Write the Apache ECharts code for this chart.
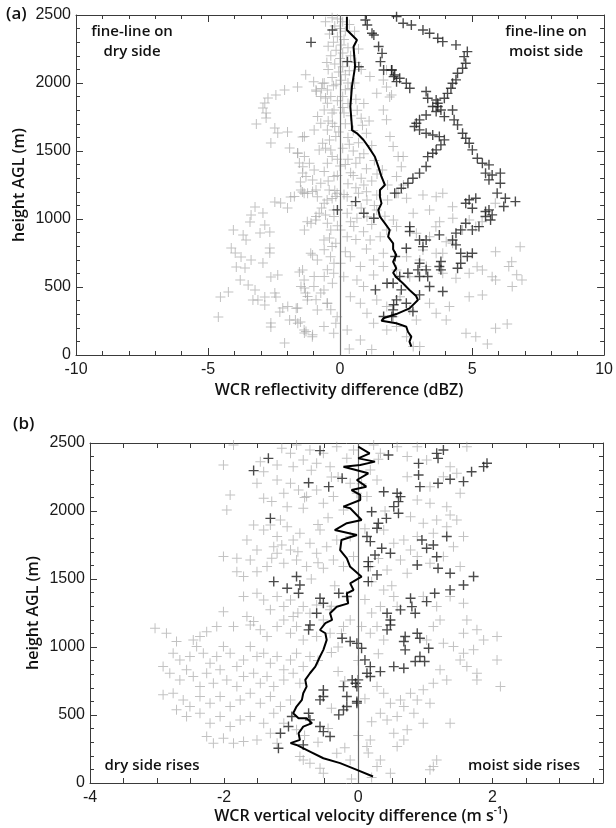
<!DOCTYPE html>
<html><head><meta charset="utf-8">
<script src="https://cdn.jsdelivr.net/npm/echarts@6/dist/echarts.min.js"></script>
<style>html,body{margin:0;padding:0;background:#fff}#c{width:616px;height:828px}</style>
</head><body><div id="c"></div>
<script>
// ---------- tick labels ----------
const aXTickLabels = [-10, -5, 0, 5, 10];
const aYTickLabels = [0, 500, 1000, 1500, 2000, 2500];
const bXTickLabels = [-4, -2, 0, 2];
const bYTickLabels = [0, 500, 1000, 1500, 2000, 2500];

// ---------- panel (a): reflectivity difference (dBZ) vs height (m) ----------
const aMean = [[0.26,2488],[0.26,2390],[0.64,2316],[0.51,2267],[0.57,2120],[0.45,1973],[0.39,1826],[0.45,1679],[0.45,1654],[0.64,1630],[0.89,1581],[1.07,1532],[1.32,1458],[1.45,1385],[1.57,1311],[1.70,1250],[1.51,1213],[1.51,1164],[1.57,1115],[1.45,1066],[1.51,1017],[1.70,968],[1.88,919],[1.82,870],[2.01,821],[2.01,777],[2.13,735],[2.01,686],[2.13,637],[2.01,605],[2.13,571],[2.38,527],[2.63,478],[2.88,434],[2.95,404],[2.63,343],[2.13,301],[1.64,270],[1.57,252],[2.13,233],[2.51,208],[2.57,171],[2.70,135],[2.63,98],[2.70,61]];

const aGrey = [
[-1.61,1970],[-2.10,1948],[-2.43,1912],[-2.73,1890],[-2.85,1853],[-2.92,1816],[-2.80,1779],[-2.80,1743],[-3.17,1698],[-2.47,1669],[-2.36,1632],[-2.62,1559],[-1.99,1640],[-1.42,1603],[-1.91,1522],[-1.61,1485],[-1.54,1412],[-1.42,1338],[-1.50,1272],[-1.42,1199],[-1.87,1162],
[-3.22,1088],[-3.37,1029],[-3.41,978],[-2.92,1044],[-2.85,956],[-2.47,1125],[-2.25,1118],[-1.99,1081],[-4.04,919],[-3.67,882],[-3.56,846],[-3.03,897],[-2.66,904],[-4.12,787],[-3.97,750],[-3.75,721],[-3.37,698],[-3.93,647],[-3.60,640],[-2.92,676],[-2.66,787],[-2.66,750],[-3.78,551],[-3.48,515],[-3.22,478],[-3.11,404],[-3.30,404],[-2.85,368],[-2.47,456],[-2.43,427],[-2.62,574],[-2.36,588],[-2.85,427],[-4.53,427],[-4.23,463],[-4.61,279],[-2.28,316],[-2.17,345],[-2.62,235],[-2.62,206],[-1.91,257],[-1.69,257],[-2.10,88],[-1.61,345],[-1.54,610],[-1.35,493],[-1.31,456],[-1.35,162],[-1.50,243],
[-1.29,173],[-1.04,148],[-1.73,1165],[-1.48,1214],[-1.23,1190],[-1.04,1202],[-0.91,1018],[-0.79,1043],[-1.10,969],[-1.35,920],[-1.04,736],[-0.60,773],[-0.48,626],[-1.48,504],[-1.23,430],[-0.91,406],[-0.73,455],[-0.48,381],[-0.35,332],[-0.29,528],[-0.16,234],[-0.98,577],[-0.60,577],[-0.23,675],[-0.16,822],[-0.35,920],[-0.48,969],[-0.23,1018],[-1.98,357],[-1.66,344],[-1.60,234],
[-1.35,1606],[-1.60,1483],[-1.35,1459],[-1.41,1385],[-1.16,1410],[-0.98,1361],[-1.29,1312],[-1.04,1287],[-0.73,1263],[-0.91,1214],[-0.66,1557],[-0.79,1508],[-0.98,1655],[-0.73,1704],[-0.48,1655],[-0.85,1753],[-0.60,1802],[-0.48,1851],[-0.73,1900],[-0.91,1949],[-0.66,1998],[-0.48,1949],[-0.35,1900],[-0.23,1802],[-0.29,1704],[-0.16,1606],[-0.35,1508],[-0.48,1410],[-0.23,1312],[-0.41,1214],[-0.60,1116],[-0.16,1165],
[-0.30,2480],[-0.10,2470],[0.10,2450],[-0.20,2420],[0.00,2400],[0.20,2380],[-0.40,2360],[-0.10,2340],[0.15,2320],[-0.25,2300],[0.05,2280],[0.30,2260],[-0.15,2240],[0.10,2220],[-0.35,2200],[0.00,2180],[0.25,2160],[-0.20,2140],[0.10,2120],[-0.45,2100],[-0.05,2080],[0.20,2060],[-0.30,2040],[0.05,2020],[-0.60,2000],[-0.15,1990],[0.30,2000],[0.60,2150],[0.70,2250],[0.80,2100],[0.55,2380],[0.40,1960],[-0.70,1960],[-0.90,1940],[-1.00,2010],[-1.30,2060],
[-0.55,2450],[0.35,2430],[-0.45,2270],[0.40,2200],[-0.50,2150],[0.35,2090],[-0.25,1980],[0.55,2000],[-0.55,1890],[0.15,1780],[0.65,1800],[-0.45,1720],[0.85,1690],[-0.05,1640],[0.35,1550],[-0.55,1520],[0.75,1450],[-0.10,1440],[0.20,1400],[-0.60,1350],[0.50,1320],[1.40,1330],[-0.45,1280],[0.90,1250],[0.15,1180],[-0.30,1150],[1.30,1100],[0.45,1100],[-0.70,1080],[0.80,1080],[1.80,1140],[2.40,1250],[1.70,1020],[0.40,980],[-0.10,950],[1.20,960],[0.60,850],[-0.40,860],[1.00,780],[0.20,760],
[0.20,1950],[0.10,1900],[-0.10,1870],[0.30,1850],[0.60,1880],[0.90,1850],[0.10,1820],[-0.30,1780],[0.40,1760],[0.80,1740],[1.10,1720],[0.20,1700],[-0.20,1680],[0.50,1650],[1.00,1630],[0.30,1600],[-0.40,1580],[0.70,1560],[1.20,1540],[0.10,1520],[0.50,1500],[0.90,1480],[-0.30,1460],[0.30,1440],[1.30,1430],[0.60,1410],[0.00,1390],[1.00,1370],[1.60,1360],[0.40,1340],[-0.10,1320],[0.80,1300],[1.20,1280],[0.30,1260],[1.80,1250],[0.60,1230],[-0.20,1210],[1.00,1200],[2.20,1190],
[1.76,2096],[1.64,2022],[1.76,1971],[1.88,1897],[1.64,1801],[1.39,1924],[1.13,2047],[1.76,1729],[1.89,1606],[2.01,1533],[2.20,1459],[2.32,1385],[2.14,1312],[1.95,1912],[2.39,1459],
[-1.36,1189],[-0.86,1164],[-0.49,1140],[-0.11,1189],[0.27,1164],[0.70,1189],[1.02,1140],[1.39,1176],[2.14,1189],[2.52,1152],[3.14,1176],[3.64,1164],[3.89,1189],[-1.24,980],[-0.92,993],[-0.55,1029],[-0.24,1066],[0.27,1042],[0.64,1005],[1.02,1017],[1.39,1066],[2.02,993],[2.77,1042],[3.39,1066],[3.77,980],[4.27,1005],[4.89,993],
[-1.11,748],[-0.61,846],[-0.30,797],[0.02,919],[0.27,870],[0.52,944],[0.89,907],[1.14,846],[1.52,870],[1.77,919],[2.14,944],[2.89,895],[3.39,870],[4.02,833],[4.64,919],[5.14,944],[5.89,760],[3.14,772],[3.64,748],[-1.42,625],[-0.86,699],[-0.36,723],[0.02,674],[0.39,723],[0.77,650],[1.27,699],[1.64,748],[2.52,723],[3.02,699],[3.89,748],
[-1.36,552],[-0.99,503],[-0.61,478],[-0.24,601],[0.14,576],[0.64,552],[0.89,503],[1.27,588],[1.64,650],[2.14,625],[2.64,576],[3.27,650],[3.89,601],[4.39,564],[4.89,601],[5.39,625],[5.89,552],[6.39,650],[6.52,503],[6.89,552],
[-1.24,405],[-0.86,331],[-0.49,380],[-0.11,282],[0.39,429],[0.77,380],[1.02,307],[1.39,405],[1.77,356],[2.02,282],[2.27,429],[2.64,331],[2.89,258],[3.39,380],[3.64,307],[4.14,356],[4.89,429],[5.39,441],
[-1.36,184],[-1.05,135],[-0.61,209],[-0.24,160],[0.27,184],[0.77,111],[1.27,233],[1.77,184],[2.14,209],[2.52,135],[3.02,62],[2.77,62],[4.02,258],[4.77,160],[5.14,135],[5.58,81],[5.89,196],[6.33,228],
[6.50,686],[6.69,590],[6.82,796],[5.76,575],[5.19,649],[4.26,821],[5.38,980],[5.88,1115],[4.26,1090],[3.63,943],[0.35,45],[1.20,40]
];

const aDark = [
[1.95,2096],[2.07,2059],[2.26,2035],[2.14,2010],[2.51,1998],[2.64,1961],[3.26,1937],[3.32,1888],[3.64,1875],[3.70,1827],[3.82,1802],[3.64,1790],[3.95,1753],[4.26,1802],[4.32,1729],[4.45,1692],[4.64,1631],[4.76,1594],[4.89,1557],[5.01,1508],[5.20,1447],[5.39,1410],[5.64,1398],[5.51,1337],[5.76,1324],[6.07,1337],[5.64,1288],[6.07,1263],[5.95,1190],[6.26,1153],[6.64,1128],[6.20,1092],
[2.07,1190],[2.32,1226],[2.57,1263],[2.76,1300],[3.01,1337],[3.26,1386],[3.32,1459],[3.51,1484],[3.64,1508],[3.82,1545],[3.95,1582],[3.76,1606],[3.51,1618],[3.26,1631],[3.01,1655],[2.82,1680],[2.89,1704],[3.01,1729],[3.26,1765],[3.51,1827],[3.70,1851],[3.95,1888],[4.07,1924],[4.20,1961],[4.26,1998],[4.39,2023],[4.45,2072],[4.64,2108],[4.76,2145],[4.70,2194],[4.82,2231],[4.39,2280],
[2.14,2488],[2.39,2439],[2.70,2427],[3.14,2390],[3.39,2366],[3.70,2329],[3.89,2304],
[4.76,1116],[5.01,1079],[4.89,1141],[5.14,1153],[5.51,1055],[5.64,1067],[5.76,1030],[5.51,1018],[5.70,993],[5.26,944],[5.01,920],[4.76,969],[4.57,920],[4.39,896],[4.26,846],[4.39,810],[4.57,748],[4.82,724],[5.01,748],[4.57,675],[4.45,638],[3.82,687],[3.76,651],[3.82,626],[3.26,626],[3.32,577],[3.01,577],[3.39,504],[3.01,442],[3.89,467],[2.64,944],[2.64,908],[3.01,846],[3.26,846],[3.14,797],[2.51,785],[3.01,675],[2.95,626],[2.57,601],[2.26,577],[2.01,528],[2.32,479],[2.14,405],[2.51,381],[2.76,320],[2.01,332],[3.76,883],
[0.96,2463],[1.03,2427],[1.21,2366],[1.28,2353],[1.46,2268],[1.59,2218],[1.53,2157],[1.65,2096],[1.96,2096],[2.03,2047],[-1.10,2299],[-0.29,2390],[0.28,2157],[0.71,2120],[0.59,1128],[0.90,1042],[1.28,1006],[-0.10,1067],[1.34,479],[1.78,528],[1.65,283],[2.03,369],[1.96,283],[2.09,724]
];

// ---------- panel (b): vertical velocity difference (m/s) vs height (m) ----------
const bMean = [[0.00,2473],[0.17,2424],[0.00,2387],[0.25,2363],[0.03,2338],[-0.22,2326],[0.15,2277],[-0.02,2228],[0.12,2179],[-0.10,2154],[0.03,2118],[0.03,2081],[-0.22,2032],[-0.12,2020],[0.05,1934],[-0.17,1910],[-0.35,1860],[-0.02,1824],[-0.25,1787],[-0.27,1713],[-0.17,1652],[-0.12,1590],[0.05,1517],[-0.12,1468],[-0.07,1419],[-0.17,1395],[-0.15,1321],[-0.32,1296],[-0.42,1248],[-0.39,1199],[-0.49,1175],[-0.57,1125],[-0.49,1101],[-0.47,1052],[-0.52,979],[-0.57,930],[-0.64,856],[-0.72,807],[-0.79,758],[-0.77,709],[-0.82,660],[-0.84,611],[-0.92,562],[-0.97,513],[-0.89,476],[-0.77,476],[-0.69,440],[-0.82,415],[-0.89,366],[-0.87,317],[-1.01,293],[-0.92,280],[-0.72,231],[-0.52,182],[-0.27,146],[-0.02,97],[0.22,48]];

const bGrey = [
[-2.01,2338],[-1.86,2485],[-1.46,2363],[-1.41,2289],[-1.21,2338],[-1.14,2461],[-1.01,2424],[-0.92,2485],[-0.97,2326],[-0.82,2375],[-0.72,2449],[-0.62,2351],[-0.52,2424],[-0.42,2326],[-0.32,2473],[-0.17,2387],[-0.07,2449],[-1.91,2118],[-1.96,2008],[-1.41,2093],[-1.29,2069],[-1.11,2130],[-1.01,2204],[-0.89,2155],[-0.77,2106],[-0.62,2155],[-0.52,2057],[-0.37,2106],[-0.12,2204],[-0.02,2130],[-1.21,2228],[-1.51,2204],[-1.06,2032],[-0.82,2020],[-0.22,2008],[-1.31,1897],[-1.16,1934],
[-1.66,1787],[-1.51,1714],[-1.41,1861],[-1.21,1812],[-1.06,1885],[-0.97,1787],[-0.87,1836],[-0.72,1763],[-0.57,1861],[-0.47,1738],[-0.32,1787],[-0.12,1812],[-2.01,1665],[-1.81,1652],[-1.61,1640],[-1.51,1554],[-1.36,1591],[-1.21,1689],[-1.11,1616],[-1.01,1714],[-0.92,1640],[-0.77,1591],[-0.62,1689],[-0.52,1579],[-0.37,1640],[-0.22,1591],[-0.07,1665],[-1.81,1554],[-1.71,1518],[-1.26,1738],[-1.14,1750],[-1.29,1652],
[-1.71,1371],[-1.51,1395],[-1.41,1346],[-1.31,1273],[-1.21,1371],[-1.11,1297],[-1.01,1346],[-0.97,1224],[-0.82,1297],[-0.72,1248],[-0.62,1309],[-0.52,1199],[-0.42,1273],[-2.01,1260],[-1.86,1150],[-1.66,1224],[-1.56,1187],[-1.46,1126],[-1.36,1077],[-1.21,1150],[-1.11,1199],[-1.01,1101],[-0.92,1150],[-0.82,1052],[-0.62,1077],[-0.42,1101],[-0.22,1150],[-0.12,1199],[-3.03,1138],[-2.86,1101],[-2.71,1040],[-2.46,1052],[-2.36,1077],[-2.26,1113],[-2.11,1150],
[-2.76,954],[-2.66,905],[-2.51,930],[-2.41,1003],[-2.31,954],[-2.21,881],[-2.11,930],[-2.01,1003],[-1.91,954],[-1.81,856],[-1.71,905],[-1.61,1003],[-1.51,930],[-1.41,954],[-1.31,881],[-1.21,930],[-1.11,832],[-1.01,905],[-0.92,954],[-0.82,856],[-0.72,930],[-2.91,856],[-2.81,807],[-2.66,758],[-2.56,832],[-2.46,783],[-2.36,709],[-2.26,807],[-2.16,734],[-2.06,832],[-1.96,758],[-1.81,709],[-1.71,783],[-1.56,807],[-1.46,734],[-1.36,783],[-1.26,709],[-1.11,758],[-0.97,807],[-0.87,734],[-2.91,648],[-2.76,660],[-2.61,611],[-2.51,562],[-2.36,636],[-2.21,587],[-2.06,636],[-1.91,562],[-1.76,611],[-1.61,660],[-1.46,587],[-1.31,636],[-1.16,562],[-1.01,611],[-1.56,1897],[-1.61,1162],
[-2.71,538],[-2.56,489],[-2.36,513],[-2.21,440],[-2.06,489],[-1.91,415],[-1.76,464],[-1.61,489],[-1.41,440],[-1.26,513],[-1.11,440],[-2.26,342],[-2.16,293],[-2.01,329],[-1.86,293],[-1.71,305],[-1.51,317],[-1.31,366],[-0.87,195],[-0.72,146],[-0.57,109],[-0.52,72],[-1.21,293],[-0.92,391],[-0.82,170],[-0.32,219],[-0.12,170],
[0.23,2485],[0.33,2424],[0.58,2473],[0.73,2400],[0.88,2473],[1.02,2375],[1.37,2326],[1.62,2473],[1.47,2277],[1.07,2179],[1.27,2252],[1.52,2130],[0.88,2081],[1.07,2057],[1.32,2032],[0.18,2302],[0.28,2228],[0.73,2252],[0.13,2106],
[0.78,1958],[0.97,1910],[1.17,1934],[1.37,1971],[1.47,1934],[1.57,1812],[1.32,1885],[1.12,1836],[0.88,1812],[0.68,1787],[0.38,1861],[0.53,1763],[0.78,1714],[0.63,1640],[0.88,1665],[1.07,1616],[1.27,1665],[1.42,1738],[1.52,1591],[0.43,1567],[0.73,1542],[0.18,1591],
[0.38,1420],[0.53,1371],[0.33,1297],[0.58,1297],[0.97,1371],[1.17,1297],[1.37,1371],[1.57,1322],[1.62,1199],[1.77,1126],[1.57,1101],[1.22,1199],[1.12,1150],[1.02,1052],[1.27,1027],[1.42,1003],[1.57,954],[1.72,979],[1.87,1052],[2.07,1077],[0.28,1150],[0.18,1101],[0.38,1052],
[1.52,905],[1.62,856],[1.77,807],[1.22,832],[1.32,758],[1.12,734],[0.97,685],[0.78,660],[0.63,611],[0.48,587],[0.68,562],[0.88,611],[1.07,587],[0.28,709],[0.38,660],[0.33,513],[0.43,464],[0.58,489],[0.83,513],[0.97,440],[1.37,440],[2.12,709],[2.07,905],[1.77,758],
[0.18,317],[0.13,268],[0.53,366],[0.68,317],[0.73,391],[0.33,170],[0.28,121],[0.48,72],[1.12,121],[1.07,97],[1.17,170],[0.58,268],
[-0.30,2250],[0.05,2200],[-0.45,1950],[0.10,1870],[-0.60,1620],[0.20,1480],[-0.35,1450],[0.10,1350],[-0.25,1100],[0.05,1150],[-0.40,960],[0.00,900],[-0.30,820],[0.10,620],[-0.45,400],[0.00,350],[-0.20,260],[0.15,220],[-0.60,300],[0.20,40],[-0.10,30],
[-0.70,2300],[-0.40,2250],[0.30,2380],[-0.80,2100],[0.40,2000],[-0.60,1900],[-0.90,1700],[0.30,1650],[-0.70,1500],[0.50,1450],[-0.40,1300],[0.20,1250],[-0.90,1250],[-0.30,1000],[0.30,950],[-0.60,900],[-0.20,750],[0.20,450],[-0.80,350],[-0.40,550]
];

const bDark = [
[-1.34,2387],[-1.56,2297],[-0.74,2208],[-0.57,2444],[-0.44,2179],[-0.24,2240],[-1.31,1946],[-0.92,1518],[-1.06,1432],[-0.89,1395],[-0.87,1456],[-1.26,1481],[-0.57,1358],[-0.52,1322],[-0.62,1248],[-0.29,1395],[-0.17,1371],[-0.72,1162],[-0.74,1126],[-0.24,1064],[-0.02,1027],[-0.09,758],[-0.04,734],[-0.22,709],[-0.52,684],[-0.52,636],[-0.57,611],[-0.17,636],[-0.02,587],[-0.99,489],[-0.74,513],[-0.72,464],[-0.57,415],[-0.52,378],[-0.42,342],[-0.29,501],[-0.22,538],[-0.17,562],[-1.16,366],[-1.04,415],[-1.19,256],[-0.82,280],
[0.45,2412],[0.90,2350],[1.17,2424],[1.19,2387],[1.27,2449],[1.92,2351],[1.87,2326],[1.69,2289],[1.57,2216],[1.37,2233],[1.19,2204],[0.92,2179],[0.90,2265],[0.38,2142],[0.58,2130],[0.63,2106],[0.60,2069],[0.53,2032],[0.60,1983],[0.20,1995],[0.42,1946],[0.30,1910],[0.28,1873],[0.13,1812],[0.18,1775],[0.35,1726],[0.48,1689],[0.25,1677],[0.15,1628],[0.15,1591],[0.28,1530],[0.15,1481],[0.95,1787],[1.02,1726],[1.12,1750],[1.32,1812],[1.17,1664],[1.19,1579],[0.88,1603],[1.37,1542],[1.72,1518],[1.57,1456],[1.37,1420],[1.14,1395],[1.02,1334],[0.78,1358],[0.80,1297],[0.85,1248],[0.63,1273],[0.43,1248],[0.48,1199],[0.48,1162],[0.43,1126],[0.70,1077],[0.68,1040],[0.70,979],[0.88,1101],[0.92,1064],[1.05,991],[0.92,930],[0.99,893],[0.85,893],[0.53,856],[0.68,844],[0.33,819],[0.18,783],[0.13,807],[0.05,991],[0.10,905],[0.18,856],[0.00,758],[-0.02,709],[-0.02,599],[-0.12,1040]
];

// ---------- chart ----------
const NUM_FONT = 'Liberation Sans';
const TXT_FONT = 'Open Sans';
const AX = '#3a3a3a';
const GREY_CROSS = 'path://M4.5,0H5.5V4.5H10V5.5H5.5V10H4.5V5.5H0V4.5H4.5Z';
const DARK_CROSS = 'path://M4.3,0H5.7V4.3H10V5.7H5.7V10H4.3V5.7H0V4.3H4.3Z';

function fmt(list) { return v => list.some(t => Math.abs(t - v) < 1e-6) ? String(v) : ''; }
function axis(o) {
  return Object.assign({
    type: 'value',
    axisLine: { show: true, onZero: false, lineStyle: { color: AX, width: 1 } },
    axisTick: { show: true, inside: true, length: 7, lineStyle: { color: AX, width: 1 } },
    splitLine: { show: false },
    minorSplitLine: { show: false },
    axisLabel: { show: false }
  }, o);
}
const lbl = (list, margin) => ({ show: true, fontSize: 16, fontFamily: NUM_FONT, color: '#1a1a1a', margin: margin, formatter: fmt(list) });
const minor = { show: true, splitNumber: 5, length: 4, lineStyle: { color: AX } };
const smallTick = { show: true, inside: true, length: 5, lineStyle: { color: AX } };

const chart = echarts.init(document.getElementById('c'), null, { renderer: 'canvas' });
chart.setOption({
  animation: false,
  backgroundColor: '#fff',
  grid: [
    { left: 76, top: 15, width: 534, height: 340 },
    { left: 90, top: 443, width: 513, height: 340 }
  ],
  xAxis: [
    axis({ gridIndex: 0, position: 'bottom', min: -10, max: 10, interval: 5, minorTick: minor, axisLabel: lbl(aXTickLabels, 7) }),
    axis({ gridIndex: 0, position: 'top', min: -10, max: 10, interval: 5, minorTick: minor }),
    axis({ gridIndex: 1, position: 'bottom', min: -4, max: 3.65, interval: 0.5, axisTick: smallTick, axisLabel: lbl(bXTickLabels, 7) }),
    axis({ gridIndex: 1, position: 'top', min: -4, max: 3.65, interval: 0.5, axisTick: smallTick })
  ],
  yAxis: [
    axis({ gridIndex: 0, position: 'left', min: 0, max: 2500, interval: 500, minorTick: minor, axisLabel: lbl(aYTickLabels, 5) }),
    axis({ gridIndex: 0, position: 'right', min: 0, max: 2500, interval: 500, minorTick: minor }),
    axis({ gridIndex: 1, position: 'left', min: 0, max: 2500, interval: 500, minorTick: minor, axisLabel: lbl(bYTickLabels, 5) }),
    axis({ gridIndex: 1, position: 'right', min: 0, max: 2500, interval: 500, minorTick: minor })
  ],
  series: [
    { type: 'scatter', xAxisIndex: 0, yAxisIndex: 0, data: aGrey, symbol: GREY_CROSS, symbolSize: 10,
      itemStyle: { color: 'rgba(160,160,160,0.8)' }, silent: true, z: 2,
      markLine: { silent: true, symbol: ['none', 'none'], label: { show: false }, lineStyle: { color: '#6a6a6a', width: 1.2, type: 'solid' }, data: [{ xAxis: 0 }] } },
    { type: 'scatter', xAxisIndex: 0, yAxisIndex: 0, data: aDark, symbol: DARK_CROSS, symbolSize: 10,
      itemStyle: { color: '#1e1e1e' }, silent: true, z: 3 },
    { type: 'line', xAxisIndex: 0, yAxisIndex: 0, data: aMean, showSymbol: false, symbol: 'none',
      lineStyle: { color: '#000', width: 2 }, z: 5, silent: true },
    { type: 'scatter', xAxisIndex: 2, yAxisIndex: 2, data: bGrey, symbol: GREY_CROSS, symbolSize: 10,
      itemStyle: { color: 'rgba(160,160,160,0.8)' }, silent: true, z: 2,
      markLine: { silent: true, symbol: ['none', 'none'], label: { show: false }, lineStyle: { color: '#6a6a6a', width: 1.2, type: 'solid' }, data: [{ xAxis: 0 }] } },
    { type: 'scatter', xAxisIndex: 2, yAxisIndex: 2, data: bDark, symbol: DARK_CROSS, symbolSize: 10,
      itemStyle: { color: '#1e1e1e' }, silent: true, z: 3 },
    { type: 'line', xAxisIndex: 2, yAxisIndex: 2, data: bMean, showSymbol: false, symbol: 'none',
      lineStyle: { color: '#000', width: 2 }, z: 5, silent: true }
  ],
  graphic: [
    { type: 'text', x: 6, y: 6, style: { text: '(a)', fontSize: 17, fontWeight: 600, fontFamily: TXT_FONT, fill: '#111' } },
    { type: 'text', x: 13, y: 416, style: { text: '(b)', fontSize: 17, fontWeight: 600, fontFamily: TXT_FONT, fill: '#111' } },
    { type: 'text', x: 19, y: 185, rotation: Math.PI / 2, style: { text: 'height AGL (m)', fontSize: 16, fontWeight: 600, fontFamily: TXT_FONT, fill: '#111', align: 'center', verticalAlign: 'middle' } },
    { type: 'text', x: 33, y: 613, rotation: Math.PI / 2, style: { text: 'height AGL (m)', fontSize: 16, fontWeight: 600, fontFamily: TXT_FONT, fill: '#111', align: 'center', verticalAlign: 'middle' } },
    { type: 'text', x: 339, y: 390, style: { text: 'WCR reflectivity difference (dBZ)', fontSize: 16, fontWeight: 600, fontFamily: TXT_FONT, fill: '#111', align: 'center', verticalAlign: 'middle' } },
    { type: 'text', x: 361, y: 816, style: { text: 'WCR vertical velocity difference (m s{sup|-1})', fontSize: 16, fontWeight: 600, fontFamily: TXT_FONT, fill: '#111', align: 'center', verticalAlign: 'middle', lineHeight: 20,
      rich: { sup: { fontSize: 10, fontWeight: 600, fontFamily: TXT_FONT, fill: '#111', verticalAlign: 'top', lineHeight: 12 } } } },
    { type: 'text', x: 132, y: 42, style: { text: 'fine-line on\ndry side', fontSize: 15, fontWeight: 600, fontFamily: TXT_FONT, fill: '#111', align: 'center', verticalAlign: 'middle', lineHeight: 20 } },
    { type: 'text', x: 546, y: 42, style: { text: 'fine-line on\nmoist side', fontSize: 15, fontWeight: 600, fontFamily: TXT_FONT, fill: '#111', align: 'center', verticalAlign: 'middle', lineHeight: 20 } },
    { type: 'text', x: 152, y: 766, style: { text: 'dry side rises', fontSize: 15, fontWeight: 600, fontFamily: TXT_FONT, fill: '#111', align: 'center', verticalAlign: 'middle' } },
    { type: 'text', x: 524, y: 766, style: { text: 'moist side rises', fontSize: 15, fontWeight: 600, fontFamily: TXT_FONT, fill: '#111', align: 'center', verticalAlign: 'middle' } }
  ]
});
</script>
</body></html>
